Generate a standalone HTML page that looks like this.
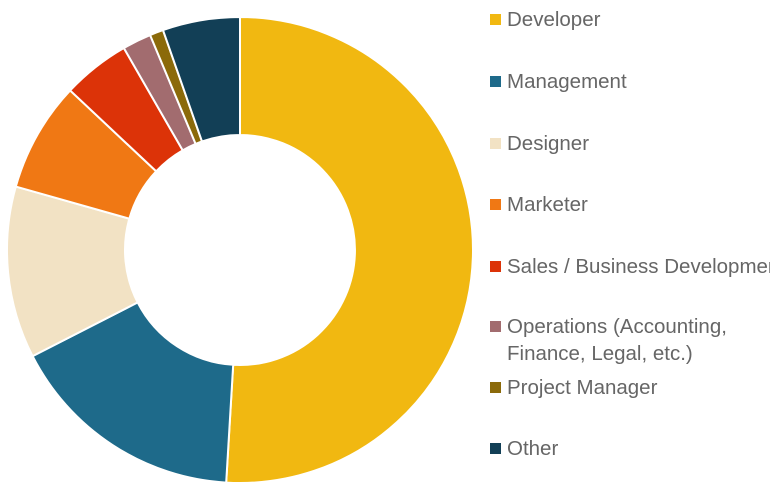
<!DOCTYPE html>
<html><head><style>
body{margin:0;width:770px;height:500px;background:#fff;overflow:hidden;font-family:"Liberation Sans",sans-serif}
.l{position:absolute;left:507px;font-size:20.5px;color:#666;line-height:27px;white-space:nowrap}
.s{position:absolute;left:490px;width:11px;height:11px}
</style></head><body>
<svg id="c" width="770" height="500" style="position:absolute;left:0;top:0"></svg>
<div class="s" style="top:14px;background:#F1B811"></div><div class="l" style="top:6px">Developer</div>
<div class="s" style="top:76px;background:#1E6A8A"></div><div class="l" style="top:68px">Management</div>
<div class="s" style="top:138px;background:#F2E2C4"></div><div class="l" style="top:130px">Designer</div>
<div class="s" style="top:199px;background:#F07814"></div><div class="l" style="top:191px">Marketer</div>
<div class="s" style="top:261px;background:#DC3308"></div><div class="l" style="top:253px">Sales / Business Development</div>
<div class="s" style="top:321px;background:#A26C6F"></div><div class="l" style="top:313px">Operations (Accounting,<br>Finance, Legal, etc.)</div>
<div class="s" style="top:382px;background:#8B6A0A"></div><div class="l" style="top:374px">Project Manager</div>
<div class="s" style="top:443px;background:#123F56"></div><div class="l" style="top:435px">Other</div>
<script>
var cx=240,cy=250,R=233,r=115;
var segs=[[0,183.4,"#F1B811"],[183.4,242.9,"#1E6A8A"],[242.9,285.8,"#F2E2C4"],[285.8,313.2,"#F07814"],[313.2,330.1,"#DC3308"],[330.1,337.3,"#A26C6F"],[337.3,340.7,"#8B6A0A"],[340.7,360,"#123F56"]];
function p(a,rad){a=a*Math.PI/180;return (cx+rad*Math.sin(a)).toFixed(2)+","+(cy-rad*Math.cos(a)).toFixed(2);}
var h="";
segs.forEach(function(s){var lg=(s[1]-s[0])>180?1:0;
h+='<path d="M'+p(s[0],R)+' A'+R+','+R+' 0 '+lg+' 1 '+p(s[1],R)+' L'+p(s[1],r)+' A'+r+','+r+' 0 '+lg+' 0 '+p(s[0],r)+' Z" fill="'+s[2]+'" stroke="#fff" stroke-width="2"/>';});
document.getElementById("c").innerHTML=h;
</script>
</body></html>
